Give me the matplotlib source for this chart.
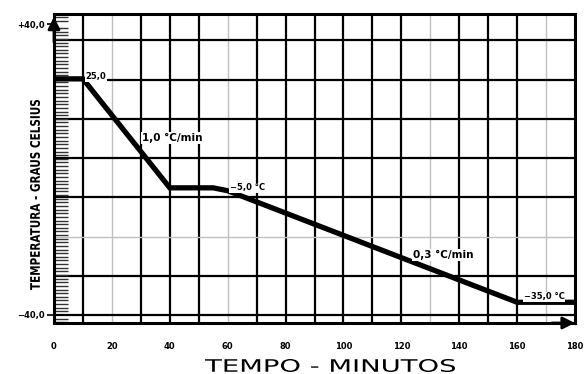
import numpy as np
import matplotlib.pyplot as plt
from matplotlib.ticker import MultipleLocator
from matplotlib.textpath import TextPath
from matplotlib.patches import PathPatch
from matplotlib.font_manager import FontProperties
from matplotlib.transforms import Affine2D, IdentityTransform

# temperature profile (minutes, deg C)
tempo = [0, 10, 40, 55, 60, 160, 180]
temperatura = [25.0, 25.0, -5.0, -5.0, -5.8, -36.5, -36.5]

xticks = [0, 20, 40, 60, 80, 100, 120, 140, 160, 180]
yticks = [-40, 40]
ylabels = ["\u221240,0", "+40,0"]

# grid: every 10 min vertically, light lines at some of them
vgrid_black = [10, 30, 40, 50, 70, 80, 90, 100, 110, 120, 140, 150, 160]
vgrid_gray = [20, 60, 130, 170]
hgrid_step = 10.8
hgrid_gray = [2]  # index of the light horizontal line

notas = ["25,0", "1,0 \u00b0C/min", "\u22125,0 \u00b0C", "0,3 \u00b0C/min", "\u221235,0 \u00b0C"]
nota_pos = [(11, 25.6), (40.7, 8.7), (66.7, -5.0), (134.3, -23.5), (169.3, -35.0)]
nota_size = [6, 7.5, 6, 7.5, 6]

W, H = 588, 374


def stretched_text(fig, s, box, rotate=False, weight="normal"):
    # draw text s filling a pixel box (left, top, right, bottom), top-left origin
    tp = TextPath((0, 0), s, size=10, prop=FontProperties(family="DejaVu Sans", weight=weight))
    tr = Affine2D()
    if rotate:
        tr.rotate_deg(90)
    p = tr.transform_path(tp)
    bb = p.get_extents()
    l, t, r, b = box
    sx = (r - l) / bb.width
    sy = (b - t) / bb.height
    tr2 = Affine2D().translate(-bb.x0, -bb.y0).scale(sx, sy).translate(l, H - b)
    p = tr2.transform_path(p)
    fig.add_artist(PathPatch(p, transform=IdentityTransform(), facecolor="black",
                             edgecolor="none"))


fig = plt.figure(figsize=(W / 100, H / 100), dpi=100)
ax = fig.add_axes([0.0918, 0.1364, 0.978 - 0.0918, 0.9626 - 0.1364])
ax.set_xlim(0, 180)
ax.set_ylim(-42.2, 42.85)

for x in vgrid_gray:
    ax.axvline(x, color="#c0c0c0", lw=1.0, zorder=1)
for x in vgrid_black:
    ax.axvline(x, color="black", lw=1.6, zorder=1)
for k in range(8):
    y = -40 + k * hgrid_step
    if k in hgrid_gray:
        ax.axhline(y, color="#c0c0c0", lw=1.0, zorder=1)
    else:
        ax.axhline(y, color="black", lw=1.6, zorder=1)

ax.plot(tempo, temperatura, color="black", lw=3.8, solid_joinstyle="miter", zorder=3)

for s, (x, y), fs in zip(notas, nota_pos, nota_size):
    ha = "left" if s == "25,0" else "center"
    ax.text(x, y, s, fontsize=fs, fontweight="bold", ha=ha, va="center", zorder=4,
            bbox=dict(facecolor="white", edgecolor="none", pad=0.5))

for sp in ax.spines.values():
    sp.set_linewidth(2.2)
    sp.set_zorder(5)

ax.set_xticks(xticks)
ax.set_xticklabels([str(v) for v in xticks], fontsize=6, fontweight="bold")
ax.tick_params(axis="x", length=0, pad=14)
ax.set_yticks(yticks)
ax.set_yticklabels(ylabels, fontsize=6, fontweight="bold")
ax.yaxis.set_minor_locator(MultipleLocator(1))
ax.tick_params(axis="y", which="major", direction="out", length=5, width=1.2, pad=2)
ax.tick_params(axis="y", which="minor", direction="in", length=10, width=1.0, color="#333333")

# axis titles, stretched like the original lettering
stretched_text(fig, "TEMPO - MINUTOS", (205, 359, 455, 372))
stretched_text(fig, "TEMPERATURA - GRAUS CELSIUS", (30, 100, 40, 290), rotate=True, weight="bold")

# axis arrows
ax.annotate("", xy=(0, 1.0), xytext=(0, 0.9), xycoords="axes fraction",
            arrowprops=dict(arrowstyle="-|>", color="black", lw=2, mutation_scale=18),
            annotation_clip=False, zorder=6)
ax.annotate("", xy=(1.005, 0), xytext=(0.95, 0), xycoords="axes fraction",
            arrowprops=dict(arrowstyle="-|>", color="black", lw=2, mutation_scale=18),
            annotation_clip=False, zorder=6)

fig.savefig("out.png", dpi=100)
